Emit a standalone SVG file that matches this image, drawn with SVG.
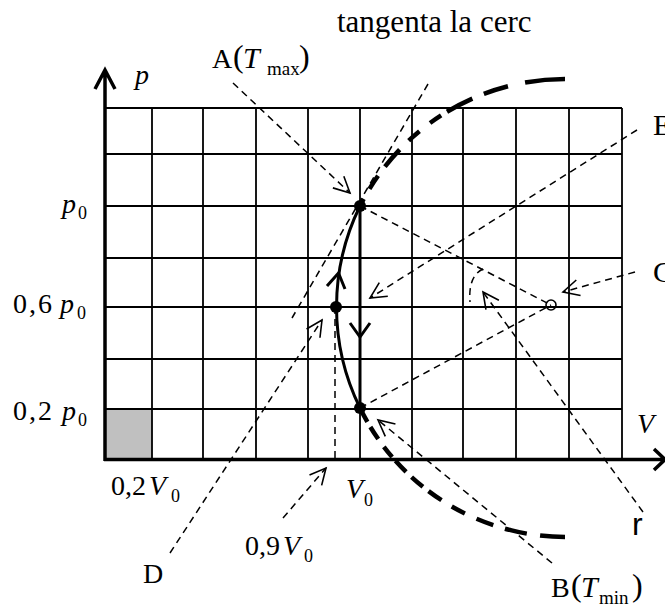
<svg xmlns="http://www.w3.org/2000/svg" width="665" height="607" viewBox="0 0 665 607">
<style>
.grid{stroke:#000;stroke-width:1.8;fill:none}
.axis{stroke:#000;stroke-width:3.5;fill:none}
.thin{stroke:#000;stroke-width:1.5;fill:none;stroke-dasharray:7 5}
.arr{marker-end:url(#ah)}
.proc{stroke:#000;stroke-width:3;fill:none}
.big{stroke:#000;stroke-width:4.5;fill:none}
.dot{fill:#000}
text{font-family:"Liberation Serif","Times New Roman",serif;fill:#000;font-size:28px}
.it{font-style:italic}
.sub{font-size:18px}
.par{font-size:32px}
</style>
<defs>
<marker id="ah" markerUnits="userSpaceOnUse" markerWidth="20" markerHeight="20" viewBox="-18 -10 20 20" refX="0" refY="0" orient="auto" overflow="visible">
<path d="M-16,-8 L0,0 L-16,8" fill="none" stroke="#000" stroke-width="1.6" stroke-dasharray="none"/>
</marker>
</defs>

<g id="grid">
<rect x="106" y="409" width="46" height="50" fill="#c0c0c0"/>
<path class="grid" d="M152,108V459 M203,108V459 M256,108V459 M308,108V459 M360,108V459 M412,108V459 M463,108V459 M516,108V459 M569,108V459 M622,108V459 M106,108H622 M106,154H622 M106,206H622 M106,258H622 M106,307H622 M106,359H622 M106,409H622"/>
</g>

<g id="axes">
<path class="axis" d="M105,461V71 M95,89L105,70L115,89"/>
<path class="axis" d="M104,459.5H664 M654,449L665,459.5L654,470"/>
<text class="it" x="135" y="84">p</text>
<text class="it" x="637" y="433">V</text>
</g>

<g id="circle-arc">
<path class="big" d="M360,206 A229,229 0 0,1 565,79" stroke-dasharray="8 11.6 15.7 11.5 22.4 12.7 14.3 13.4 13.4 6.9 28.6 12.4 25.3 17.5 40.3 100"/>
<path class="big" d="M360,408 A229,229 0 0,0 565,537" stroke-dasharray="15.8 5.9 14.4 9.6 13.1 5 15.4 7.5 14.9 7.1 15.8 12 14.9 12.8 17.9 12.2 22.4 13.4 25.2 100"/>
</g>

<g id="process">
<path class="proc" d="M360,206 V408" stroke-width="3.5"/>
<path class="proc" d="M360,206 A229,229 0 0,0 360,408"/>
<path class="proc" d="M327,286 L338.5,273 L345,289"/>
<path class="proc" d="M350,323 L360,337 L370,323"/>
</g>

<g id="node-A"><circle class="dot" cx="360" cy="206" r="6"/></g>
<g id="node-mid"><circle class="dot" cx="336" cy="307" r="6"/></g>
<g id="node-B"><circle class="dot" cx="360" cy="408" r="6"/></g>
<g id="node-C"><circle cx="551" cy="305" r="5" fill="none" stroke="#000" stroke-width="1.6"/></g>

<g id="connectors">
<path class="thin arr" d="M233,83 L350,193"/>
<path class="thin arr" d="M637,130 L370,298"/>
<path class="thin arr" d="M635,272 L563,292"/>
<path class="thin arr" d="M643,512 L483,292"/>
<path class="thin arr" d="M552,563 L378,420"/>
<path class="thin arr" d="M170,553 L322,320"/>
<path class="thin arr" d="M283,518 L326,468"/>
<path class="thin" d="M428,84 L292,318"/>
<path class="thin" d="M360,206 L551,305"/>
<path class="thin" d="M360,408 L551,305"/>
<path class="thin" d="M335,307 V459"/>
<path class="thin" d="M483,269 Q468,276 470,302" stroke-dasharray="5 4"/>
</g>

<g id="labels">
<text x="337" y="32" style="font-size:31px">tangenta la cerc</text>
<g id="label-A">
<text x="212" y="68">A</text>
<text class="par" x="233" y="67">(</text>
<text class="it" x="243" y="68" style="font-size:30px">T</text>
<text x="267" y="75" style="font-size:19px">max</text>
<text class="par" x="299" y="67">)</text>
</g>
<g id="label-B">
<text x="551" y="597">B</text>
<text class="par" x="571" y="596">(</text>
<text class="it" x="581" y="597" style="font-size:30px">T</text>
<text x="599" y="604" style="font-size:19px">min</text>
<text class="par" x="632" y="596">)</text>
</g>
<text x="653" y="135" style="font-size:30px">E</text>
<text x="653" y="282" style="font-size:30px">C</text>
<text x="143" y="583">D</text>
<text x="632" y="535" style="font-family:'Liberation Sans',Arial,sans-serif;font-size:32px">r</text>
<g id="label-p0"><text class="it" x="62" y="213">p</text><text class="sub" x="78" y="219">0</text></g>
<g id="label-06p0"><text x="13" y="313" letter-spacing="2">0,6</text><text class="it" x="60" y="313">p</text><text class="sub" x="77" y="319">0</text></g>
<g id="label-02p0"><text x="13" y="420" letter-spacing="2">0,2</text><text class="it" x="62" y="420">p</text><text class="sub" x="78" y="426">0</text></g>
<g id="label-02V0"><text x="111" y="495">0,2</text><text class="it" x="149" y="495">V</text><text class="sub" x="171" y="502">0</text></g>
<g id="label-V0"><text class="it" x="346" y="498">V</text><text class="sub" x="364" y="506">0</text></g>
<g id="label-09V0"><text x="245" y="555">0,9</text><text class="it" x="283" y="555">V</text><text class="sub" x="304" y="562">0</text></g>
</g>
</svg>
